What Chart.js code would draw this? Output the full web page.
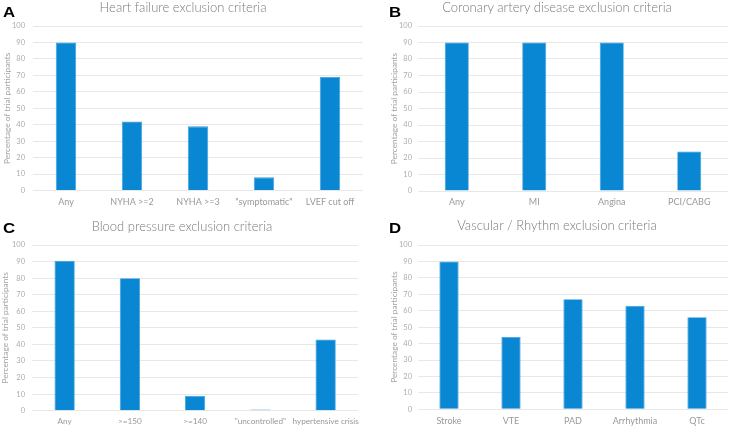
<!DOCTYPE html>
<html>
<head>
<meta charset="utf-8">
<script src="https://cdn.jsdelivr.net/npm/chart.js@4.4.1/dist/chart.umd.min.js"></script>
<style>
  html, body { margin:0; padding:0; background:#fff; }
  #wrap { position:relative; width:730px; height:427px; overflow:hidden; }
  canvas { position:absolute; }
  .letter { position:absolute; font-family:"Liberation Sans", Arial, sans-serif; font-weight:bold; font-size:14px; line-height:14px; color:#000; transform:scaleX(1.2); transform-origin:left top; }
  .title { position:absolute; font-family:Lato, "Open Sans", sans-serif; font-weight:300; font-size:13px; line-height:15px; color:#7a7a7a; white-space:nowrap; transform:translateX(-50%); }
</style>
</head>
<body>
<div id="wrap">
  <canvas id="cA" width="365" height="213" style="left:0;top:0"></canvas>
  <canvas id="cB" width="365" height="213" style="left:365px;top:0"></canvas>
  <canvas id="cC" width="365" height="214" style="left:0;top:213px"></canvas>
  <canvas id="cD" width="365" height="214" style="left:365px;top:213px"></canvas>
  <div class="letter" style="left:3px;top:5px">A</div>
  <div class="letter" style="left:389px;top:5px">B</div>
  <div class="letter" style="left:3px;top:221px">C</div>
  <div class="letter" style="left:389px;top:221px">D</div>
  <div class="title" style="left:183px;top:0px">Heart failure exclusion criteria</div>
  <div class="title" style="left:557px;top:0px">Coronary artery disease exclusion criteria</div>
  <div class="title" style="left:182px;top:219px">Blood pressure exclusion criteria</div>
  <div class="title" style="left:557px;top:218px">Vascular / Rhythm exclusion criteria</div>
</div>
<script>
// Data
const hfCategories = ['Any', 'NYHA >=2', 'NYHA >=3', '"symptomatic"', 'LVEF cut off'];
const hfValues = [90, 42, 39, 8, 69];

const cadCategories = ['Any', 'MI', 'Angina', 'PCI/CABG'];
const cadValues = [90, 90, 90, 24];

const bpCategories = ['Any', '>=150', '>=140', '"uncontrolled"', 'hypertensive crisis'];
const bpValues = [90.5, 80, 9, 0.7, 43];

const vrCategories = ['Stroke', 'VTE', 'PAD', 'Arrhythmia', 'QTc'];
const vrValues = [90, 44, 67, 63, 56];

const yTicks = [0, 10, 20, 30, 40, 50, 60, 70, 80, 90, 100];
const yAxisTitle = 'Percentage of trial participants';

const BAR = '#0A87D3';
const FONT = 'Lato, "Open Sans", sans-serif';

function makeChart(id, labels, values, geo) {
  return new Chart(document.getElementById(id), {
    type: 'bar',
    data: {
      labels: labels,
      datasets: [{
        data: values,
        backgroundColor: BAR,
        borderColor: '#3A9EDB',
        borderWidth: 0.8,
        categoryPercentage: 1,
        barPercentage: 0.31
      }]
    },
    options: {
      responsive: false,
      animation: false,
      devicePixelRatio: 1,
      layout: { padding: { top: geo.top, right: 2, left: 0, bottom: 0 } },
      plugins: { legend: { display: false }, title: { display: false }, tooltip: { enabled: false } },
      scales: {
        x: {
          grid: { display: false, drawTicks: false },
          border: { display: false },
          ticks: { color: '#999999', font: { family: FONT, size: geo.xf, weight: 400 }, padding: 6, maxRotation: 0, autoSkip: false },
          afterFit: s => { s.height = geo.xh; }
        },
        y: {
          min: 0, max: 100,
          afterBuildTicks: s => { s.ticks = yTicks.map(v => ({ value: v })); },
          grid: { color: '#e8e8e8', lineWidth: 1, drawTicks: false },
          border: { display: false },
          ticks: { color: '#adadad', font: { family: FONT, size: 7.5, weight: 400 }, padding: geo.tp },
          title: { display: true, text: yAxisTitle, color: '#a3a3a3', font: { family: FONT, size: 8.3, weight: 400 }, padding: { top: geo.titlePad, bottom: 0 } },
          afterFit: s => { s.width = geo.yw; }
        }
      }
    }
  });
}

makeChart('cA', hfCategories, hfValues, { top: 26, xh: 22.5, yw: 33, tp: 8, titlePad: 2, xf: 9 });
makeChart('cB', cadCategories, cadValues, { top: 26, xh: 22, yw: 53, tp: 6, titlePad: 24, xf: 9 });
makeChart('cC', bpCategories, bpValues, { top: 32, xh: 16.3, yw: 32, tp: 7, titlePad: 0.5, xf: 8.2 });
makeChart('cD', vrCategories, vrValues, { top: 32, xh: 17.7, yw: 53, tp: 6, titlePad: 24, xf: 9 });
</script>
</body>
</html>
